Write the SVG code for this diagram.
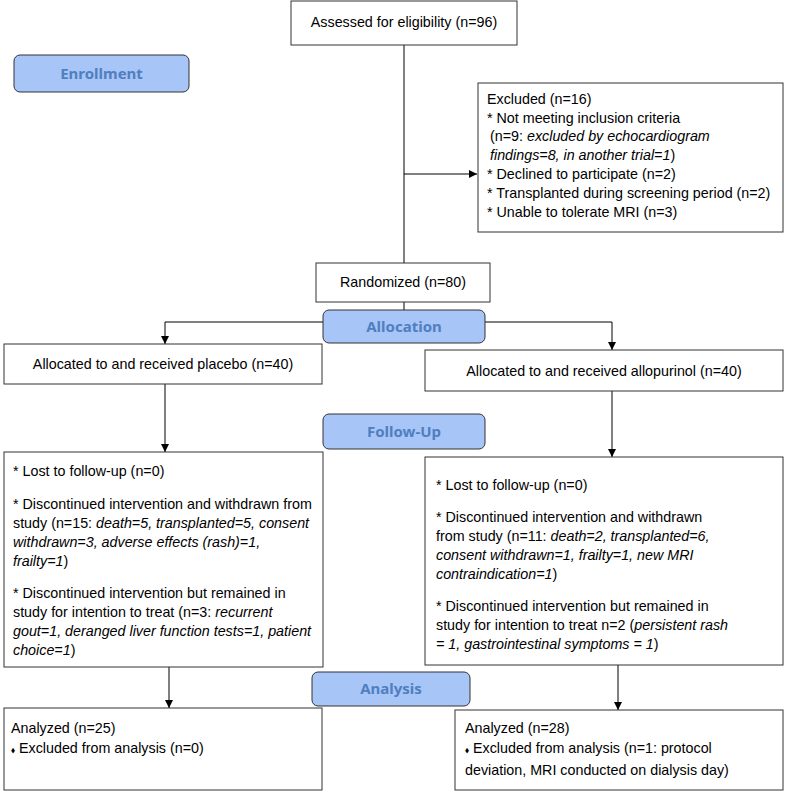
<svg xmlns="http://www.w3.org/2000/svg" width="785" height="793" viewBox="0 0 785 793">
<style>
.box{fill:#fff;stroke:#333;stroke-width:1}
.phase{fill:#a8c5f7;stroke:#333;stroke-width:1}
.pt{font-family:"Noto Sans","Open Sans",sans-serif;font-weight:bold;font-size:15px;fill:#4f7fbf;text-anchor:middle}
.t{font-family:"Liberation Sans",Arial,sans-serif;font-size:14.3px;fill:#000}
.c{text-anchor:middle}
.i{font-style:italic}
.d{font-size:9px}
.ln{stroke:#000;stroke-width:1;fill:none}
</style>
<defs>
<marker id="ah" markerWidth="8" markerHeight="8" refX="8" refY="4" orient="auto" markerUnits="userSpaceOnUse">
<path d="M0,0 L8,4 L0,8 Z" fill="#000"/>
</marker>
</defs>

<g id="connectors">
<line class="ln" x1="404" y1="45" x2="404" y2="263"/>
<line class="ln" x1="404" y1="174" x2="477" y2="174" marker-end="url(#ah)"/>
<line class="ln" x1="404" y1="302" x2="404" y2="322" marker-end="url(#ah)"/>
<line class="ln" x1="165" y1="322" x2="612" y2="322"/>
<line class="ln" x1="165" y1="322" x2="165" y2="344" marker-end="url(#ah)"/>
<line class="ln" x1="612" y1="322" x2="612" y2="350" marker-end="url(#ah)"/>
<line class="ln" x1="165" y1="384" x2="165" y2="452" marker-end="url(#ah)"/>
<line class="ln" x1="612" y1="391" x2="612" y2="457" marker-end="url(#ah)"/>
<line class="ln" x1="169" y1="667" x2="169" y2="708" marker-end="url(#ah)"/>
<line class="ln" x1="618" y1="665" x2="618" y2="710" marker-end="url(#ah)"/>
</g>

<g id="enrollment">
<rect class="phase" x="14" y="55" width="175" height="37" rx="6"/>
<text class="pt" x="101.5" y="79">Enrollment</text>
</g>
<g id="allocation">
<rect class="phase" x="323" y="310" width="162" height="33" rx="6"/>
<text class="pt" x="404" y="332">Allocation</text>
</g>
<g id="followup">
<rect class="phase" x="323" y="414" width="162" height="35" rx="6"/>
<text class="pt" x="404" y="437">Follow-Up</text>
</g>
<g id="analysis">
<rect class="phase" x="312" y="672" width="158" height="34" rx="6"/>
<text class="pt" x="391" y="694">Analysis</text>
</g>

<g id="assessed">
<rect class="box" x="291" y="1" width="226" height="44"/>
<text class="t c" x="404" y="27">Assessed for eligibility (n=96)</text>
</g>

<g id="excluded">
<rect class="box" x="478" y="83" width="305" height="149"/>
<text class="t" x="487" y="104">Excluded (n=16)</text>
<text class="t" x="487" y="123">* Not meeting inclusion criteria</text>
<text class="t" x="490" y="141">(n=9: <tspan class="i">excluded by echocardiogram</tspan></text>
<text class="t i" x="490" y="160">findings=8, in another trial=1<tspan font-style="normal">)</tspan></text>
<text class="t" x="487" y="179">* Declined to participate (n=2)</text>
<text class="t" x="487" y="198">* Transplanted during screening period (n=2)</text>
<text class="t" x="487" y="217">* Unable to tolerate MRI (n=3)</text>
</g>

<g id="randomized">
<rect class="box" x="316" y="263" width="174" height="39"/>
<text class="t c" x="403" y="287">Randomized (n=80)</text>
</g>

<g id="placebo">
<rect class="box" x="4" y="344" width="318" height="40"/>
<text class="t c" x="163" y="369">Allocated to and received placebo (n=40)</text>
</g>

<g id="allopurinol">
<rect class="box" x="425" y="350" width="358" height="41"/>
<text class="t c" x="604" y="376">Allocated to and received allopurinol (n=40)</text>
</g>

<g id="followup-placebo">
<rect class="box" x="4" y="452" width="319" height="215"/>
<text class="t" x="13" y="476">* Lost to follow-up (n=0)</text>
<text class="t" x="13" y="509">* Discontinued intervention and withdrawn from</text>
<text class="t" x="13" y="528">study (n=15: <tspan class="i">death=5, transplanted=5, consent</tspan></text>
<text class="t i" x="13" y="547">withdrawn=3, adverse effects (rash)=1,</text>
<text class="t" x="13" y="566"><tspan class="i">frailty=1</tspan>)</text>
<text class="t" x="13" y="598">* Discontinued intervention but remained in</text>
<text class="t" x="13" y="617">study for intention to treat (n=3: <tspan class="i">recurrent</tspan></text>
<text class="t i" x="13" y="636">gout=1, deranged liver function tests=1, patient</text>
<text class="t" x="13" y="655"><tspan class="i">choice=1</tspan>)</text>
</g>

<g id="followup-allopurinol">
<rect class="box" x="425" y="457" width="358" height="208"/>
<text class="t" x="436" y="490">* Lost to follow-up (n=0)</text>
<text class="t" x="436" y="522">* Discontinued intervention and withdrawn</text>
<text class="t" x="436" y="541">from study (n=11: <tspan class="i">death=2, transplanted=6,</tspan></text>
<text class="t i" x="436" y="560">consent withdrawn=1, frailty=1, new MRI</text>
<text class="t" x="436" y="579"><tspan class="i">contraindication=1</tspan>)</text>
<text class="t" x="436" y="611">* Discontinued intervention but remained in</text>
<text class="t" x="436" y="630">study for intention to treat n=2 (<tspan class="i">persistent rash</tspan></text>
<text class="t" x="436" y="649"><tspan class="i">= 1, gastrointestinal symptoms = 1</tspan>)</text>
</g>

<g id="analyzed-placebo">
<rect class="box" x="4" y="708" width="318" height="82"/>
<text class="t" x="11" y="733">Analyzed (n=25)</text>
<text class="t" x="11" y="753"><tspan class="d">⬧</tspan> Excluded from analysis (n=0)</text>
</g>

<g id="analyzed-allopurinol">
<rect class="box" x="455" y="710" width="328" height="80"/>
<text class="t" x="465" y="733">Analyzed (n=28)</text>
<text class="t" x="465" y="753"><tspan class="d">⬧</tspan> Excluded from analysis (n=1: protocol</text>
<text class="t" x="465" y="775">deviation, MRI conducted on dialysis day)</text>
</g>
</svg>
